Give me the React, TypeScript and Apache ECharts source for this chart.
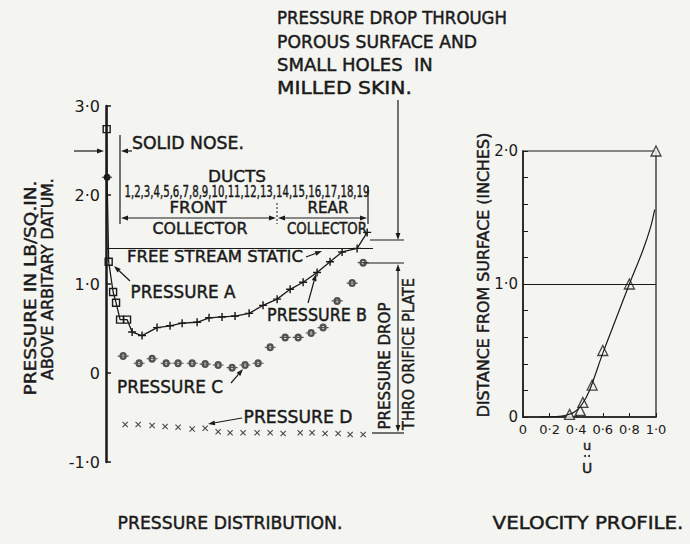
import React, { useEffect, useRef } from "react";
import * as echarts from "echarts";

// ---------------- data ----------------
const Y_TICK_LABELS_LEFT = ["-1·0", "0", "1·0", "2·0", "3·0"];
const Y_TICK_VALUES_LEFT = [-1, 0, 1, 2, 3];

// Pressure A (nose region) – duct-position units, lb/sq.in.
const A_X = [-0.45, -0.45, -0.42, -0.3, 0.03, 0.25, 0.55, 1.07];
const A_Y = [3.0, 2.74, 2.2, 1.25, 0.91, 0.79, 0.6, 0.6];
// Pressure B
const B_X = [1.45, 2.19, 3.31, 4.28, 5.18, 6.3, 7.19, 8.16, 9.13, 10.18, 11.22, 12.27, 13.24, 14.21, 15.25, 16.22, 17.12, 18.24, 18.99];
const B_Y = [0.46, 0.42, 0.51, 0.53, 0.56, 0.57, 0.62, 0.63, 0.64, 0.67, 0.76, 0.83, 0.94, 1.02, 1.13, 1.25, 1.36, 1.4, 1.58];
// Pressure C
const C_X = [0.78, 1.97, 2.94, 3.99, 4.88, 5.93, 6.9, 7.87, 8.91, 9.88, 10.85, 11.75, 12.87, 13.84, 14.81, 15.7, 16.75, 17.87, 18.69];
const C_Y = [0.19, 0.11, 0.16, 0.11, 0.11, 0.11, 0.1, 0.09, 0.06, 0.09, 0.11, 0.29, 0.4, 0.4, 0.45, 0.51, 0.81, 1.01, 1.24];
// Pressure D
const D_X = [0.93, 1.9, 2.94, 3.91, 4.88, 5.93, 6.9, 7.87, 8.76, 9.73, 10.78, 11.75, 12.72, 13.99, 14.88, 15.85, 16.82, 17.72, 18.69];
const D_Y = [-0.58, -0.58, -0.59, -0.6, -0.61, -0.63, -0.62, -0.66, -0.67, -0.67, -0.67, -0.67, -0.68, -0.67, -0.67, -0.68, -0.68, -0.69, -0.69];
const FREE_STREAM_STATIC = 1.4;
const FREE_STREAM_END_X = 19.43;

// Velocity profile
const VEL_PTS_U = [0.35, 0.43, 0.45, 0.52, 0.6, 0.8, 1.0];
const VEL_PTS_Y = [0.02, 0.05, 0.11, 0.24, 0.5, 1.0, 2.0];
const VEL_CURVE_U = [0.12, 0.25, 0.33, 0.39, 0.44, 0.5, 0.6, 0.7, 0.8, 0.9, 0.96, 0.99];
const VEL_CURVE_Y = [0, 0.003, 0.015, 0.04, 0.09, 0.2, 0.48, 0.74, 1.0, 1.25, 1.43, 1.56];
const VEL_X_LABELS = ["0", "0·2", "0·4", "0·6", "0·8", "1·0"];
const VEL_Y_LABELS: Record<string, string> = { "0": "0", "1": "1·0", "2": "2·0" };

const DUCT_NUMBERS = "1,2,3,4,5,6,7,8,9,10,11,12,13,14,15,16,17,18,19";

// ---------------- styling helpers ----------------
const INK = "#1a1a1a";
const BG = "#f4f4f1";
const FONT = '"DejaVu Sans", sans-serif';

const PLUS = "path://M-0.18,-1 L0.18,-1 L0.18,-0.18 L1,-0.18 L1,0.18 L0.18,0.18 L0.18,1 L-0.18,1 L-0.18,0.18 L-1,0.18 L-1,-0.18 L-0.18,-0.18 Z";
const CROSS = "path://M-1,-0.75 L-0.75,-1 L0,-0.25 L0.75,-1 L1,-0.75 L0.25,0 L1,0.75 L0.75,1 L0,0.25 L-0.75,1 L-1,0.75 L-0.25,0 Z";
const RINGBAR =
  "path://M1,0 A1,1 0 1,1 -1,0 A1,1 0 1,1 1,0 Z M0.38,0 A0.38,0.38 0 1,0 -0.38,0 A0.38,0.38 0 1,0 0.38,0 Z M-1.5,-0.14 L1.5,-0.14 L1.5,0.14 L-1.5,0.14 Z";

let measureCtx: CanvasRenderingContext2D | null = null;
function widthOf(text: string, size: number) {
  if (!measureCtx) measureCtx = document.createElement("canvas").getContext("2d");
  if (!measureCtx) return text.length * size * 0.65;
  measureCtx.font = `${size}px "DejaVu Sans"`;
  return measureCtx.measureText(text).width;
}

function txt(text: string, x: number, y: number, size: number, target?: number, rot = 0, align = "center") {
  let s = 1;
  if (target) s = Math.max(0.55, Math.min(1.5, target / widthOf(text, size)));
  return {
    type: "text",
    x,
    y,
    rotation: rot,
    scaleX: s,
    silent: true,
    style: {
      text,
      fontSize: size,
      fontFamily: FONT,
      fill: INK,
      stroke: INK,
      lineWidth: 0.45,
      align,
      verticalAlign: "middle",
      textAlign: align,
      textVerticalAlign: "middle",
    },
  };
}

function ln(x1: number, y1: number, x2: number, y2: number, w = 1.2, dash?: number[]) {
  return {
    type: "line",
    silent: true,
    shape: { x1, y1, x2, y2 },
    style: { stroke: INK, lineWidth: w, lineDash: dash },
  };
}

function arrow(x1: number, y1: number, x2: number, y2: number, w = 1.2) {
  const dx = x2 - x1;
  const dy = y2 - y1;
  const L = Math.sqrt(dx * dx + dy * dy) || 1;
  const ux = dx / L;
  const uy = dy / L;
  const len = 7;
  const hw = 2.4;
  const bx = x2 - ux * len;
  const by = y2 - uy * len;
  return [
    ln(x1, y1, bx, by, w),
    {
      type: "polygon",
      silent: true,
      shape: {
        points: [
          [x2, y2],
          [bx - uy * hw, by + ux * hw],
          [bx + uy * hw, by - ux * hw],
        ],
      },
      style: { fill: INK },
    },
  ];
}

export default function App() {
  const ref = useRef<HTMLDivElement>(null);

  useEffect(() => {
    if (!ref.current) return;
    const chart = echarts.init(ref.current, null, { renderer: "svg" });

    const aData: any[] = A_X.map((x, i) => {
      const item: any = { value: [x, A_Y[i]] };
      if (i === 0) item.symbol = "none";
      if (i === 2) {
        item.symbol = RINGBAR;
        item.symbolSize = [10, 7];
        item.itemStyle = { color: INK, borderWidth: 0 };
      }
      return item;
    });
    aData.push({ value: [B_X[0], B_Y[0]], symbol: "none" });

    const graphics: any[] = [
      // solid nose arrows
      ...arrow(74, 151, 104, 151),
      ln(120, 135, 120, 224),
      ...arrow(132, 151, 121, 151),
      txt("SOLID NOSE.", 188, 143, 17, 112),
      // ducts
      txt("DUCTS", 237, 177, 16, 58),
      txt(DUCT_NUMBERS, 247, 192, 15, 245),
      ln(368, 186, 368, 224),
      txt("FRONT", 198, 208, 15, 57),
      txt("REAR", 328, 208, 15, 41),
      ...arrow(200, 218, 121, 218),
      ...arrow(200, 218, 276, 218),
      ...arrow(320, 218, 278, 218),
      ...arrow(320, 218, 367, 218),
      ln(277, 203, 277, 224, 1, [2, 2]),
      txt("COLLECTOR", 200, 229, 15, 95),
      txt("COLLECTOR", 327, 229, 15, 80),
      // free stream static
      txt("FREE STREAM STATIC", 215, 257, 16, 176),
      ...arrow(306, 257, 322, 251),
      // top annotation
      txt("PRESSURE DROP THROUGH", 277, 18, 17, 230, 0, "left"),
      txt("POROUS SURFACE AND", 277, 42, 17, 200, 0, "left"),
      txt("SMALL HOLES  IN", 277, 65, 17, 156, 0, "left"),
      txt("MILLED SKIN.", 277, 88, 17, 135, 0, "left"),
      ...arrow(398, 100, 398, 240),
      ln(370, 240, 404, 240),
      // orifice plate bracket
      ln(363, 263, 404, 263),
      ...arrow(398, 350, 398, 264),
      ...arrow(398, 350, 398, 432),
      ln(372, 433, 404, 433),
      txt("PRESSURE DROP", 385, 366, 16, 127, Math.PI / 2),
      txt("THRO ORIFICE PLATE", 409, 354, 16, 152, Math.PI / 2),
      // series labels
      txt("PRESSURE A", 183, 292, 17, 105),
      ...arrow(130, 281, 114, 266),
      txt("PRESSURE B", 317, 315, 17, 100),
      ...arrow(308, 303, 316, 274),
      txt("PRESSURE C", 170, 387, 17, 106),
      ...arrow(231, 383, 243, 369),
      txt("PRESSURE D", 298, 417, 17, 109),
      ...arrow(242, 418, 208, 424),
      // axis names
      txt("PRESSURE IN LB/SQ.IN.", 30, 288, 16, 215, Math.PI / 2),
      txt("ABOVE ARBITARY DATUM.", 47, 279, 16, 202, Math.PI / 2),
      txt("DISTANCE FROM SURFACE (INCHES)", 483, 275, 16, 285, Math.PI / 2),
      // u/U
      txt("u", 587, 445, 13),
      { type: "circle", silent: true, shape: { cx: 585, cy: 456, r: 1 }, style: { fill: INK } },
      { type: "circle", silent: true, shape: { cx: 589, cy: 456, r: 1 }, style: { fill: INK } },
      txt("U", 587, 468, 14),
      // titles
      txt("PRESSURE DISTRIBUTION.", 230, 523, 17, 225),
      txt("VELOCITY PROFILE.", 588, 523, 17, 191),
    ];

    const option: any = {
      animation: false,
      backgroundColor: BG,
      grid: [
        { left: 106, top: 106, width: 301.5, height: 356, show: false },
        { left: 523, top: 151, width: 133, height: 266, show: true, borderColor: INK, borderWidth: 1.2, backgroundColor: "transparent" },
      ],
      xAxis: [
        { gridIndex: 0, type: "value", min: -0.5, max: 22, show: false },
        {
          gridIndex: 1,
          type: "value",
          min: 0,
          max: 1,
          interval: 0.2,
          axisLine: { onZero: false, lineStyle: { color: INK, width: 1.5 } },
          axisTick: { inside: true, length: 4, lineStyle: { color: INK } },
          splitLine: { show: false },
          axisLabel: {
            color: INK,
            fontFamily: FONT,
            fontSize: 13,
            margin: 6,
            formatter: (v: number) => VEL_X_LABELS[Math.round(v * 5)] ?? "",
          },
        },
      ],
      yAxis: [
        {
          gridIndex: 0,
          type: "value",
          min: -1,
          max: 3,
          interval: 1,
          axisLine: { show: true, onZero: false, lineStyle: { color: INK, width: 2.5 } },
          axisTick: { show: true, inside: true, length: 5, lineStyle: { color: INK, width: 1.5 } },
          splitLine: { show: false },
          axisLabel: {
            color: INK,
            fontFamily: FONT,
            fontSize: 16,
            margin: 6,
            formatter: (v: number) => {
              const i = Y_TICK_VALUES_LEFT.indexOf(Math.round(v));
              return i >= 0 ? Y_TICK_LABELS_LEFT[i] : "";
            },
          },
        },
        {
          gridIndex: 1,
          type: "value",
          min: 0,
          max: 2,
          interval: 0.2,
          axisLine: { show: true, onZero: false, lineStyle: { color: INK, width: 1.5 } },
          axisTick: { show: true, inside: true, length: 5, lineStyle: { color: INK } },
          splitLine: { show: false },
          axisLabel: {
            color: INK,
            fontFamily: FONT,
            fontSize: 15,
            margin: 5,
            formatter: (v: number) => {
              const r = Math.round(v * 10) / 10;
              return Number.isInteger(r) ? VEL_Y_LABELS[String(r)] : "";
            },
          },
        },
      ],
      series: [
        {
          name: "Pressure A",
          type: "line",
          xAxisIndex: 0,
          yAxisIndex: 0,
          data: aData,
          symbol: "rect",
          symbolSize: 7,
          showAllSymbol: true,
          itemStyle: { color: "rgba(0,0,0,0)", borderColor: INK, borderWidth: 1.4 },
          lineStyle: { color: INK, width: 1.3 },
          markLine: {
            silent: true,
            symbol: "none",
            label: { show: false },
            lineStyle: { color: INK, width: 1.2, type: "solid" },
            data: [[{ coord: [-0.5, FREE_STREAM_STATIC] }, { coord: [FREE_STREAM_END_X, FREE_STREAM_STATIC] }]],
          },
        },
        {
          name: "Pressure B",
          type: "line",
          xAxisIndex: 0,
          yAxisIndex: 0,
          data: B_X.map((x, i) => [x, B_Y[i]]),
          symbol: PLUS,
          symbolSize: 8,
          showAllSymbol: true,
          itemStyle: { color: INK },
          lineStyle: { color: INK, width: 1.3 },
        },
        {
          name: "Pressure C",
          type: "scatter",
          xAxisIndex: 0,
          yAxisIndex: 0,
          data: C_X.map((x, i) => [x, C_Y[i]]),
          symbol: RINGBAR,
          symbolSize: [11, 8],
          itemStyle: { color: "#2a2a2a" },
        },
        {
          name: "Pressure D",
          type: "scatter",
          xAxisIndex: 0,
          yAxisIndex: 0,
          data: D_X.map((x, i) => [x, D_Y[i]]),
          symbol: CROSS,
          symbolSize: 6,
          itemStyle: { color: INK },
        },
        {
          name: "Velocity curve",
          type: "line",
          xAxisIndex: 1,
          yAxisIndex: 1,
          data: VEL_CURVE_U.map((u, i) => [u, VEL_CURVE_Y[i]]),
          smooth: 0.3,
          symbol: "none",
          lineStyle: { color: INK, width: 1.2 },
          markLine: {
            silent: true,
            symbol: "none",
            label: { show: false },
            lineStyle: { color: INK, width: 1.2, type: "solid" },
            data: [{ yAxis: 1 }],
          },
        },
        {
          name: "Velocity points",
          type: "scatter",
          xAxisIndex: 1,
          yAxisIndex: 1,
          data: VEL_PTS_U.map((u, i) => [u, VEL_PTS_Y[i]]),
          symbol: "triangle",
          symbolSize: 10,
          itemStyle: { color: BG, borderColor: INK, borderWidth: 1.3 },
        },
      ],
      graphic: { elements: graphics },
    };

    chart.setOption(option);
    return () => chart.dispose();
  }, []);

  return (
    <div
      ref={ref}
      style={{ position: "fixed", left: 0, top: 0, width: 690, height: 544, background: BG }}
    />
  );
}
